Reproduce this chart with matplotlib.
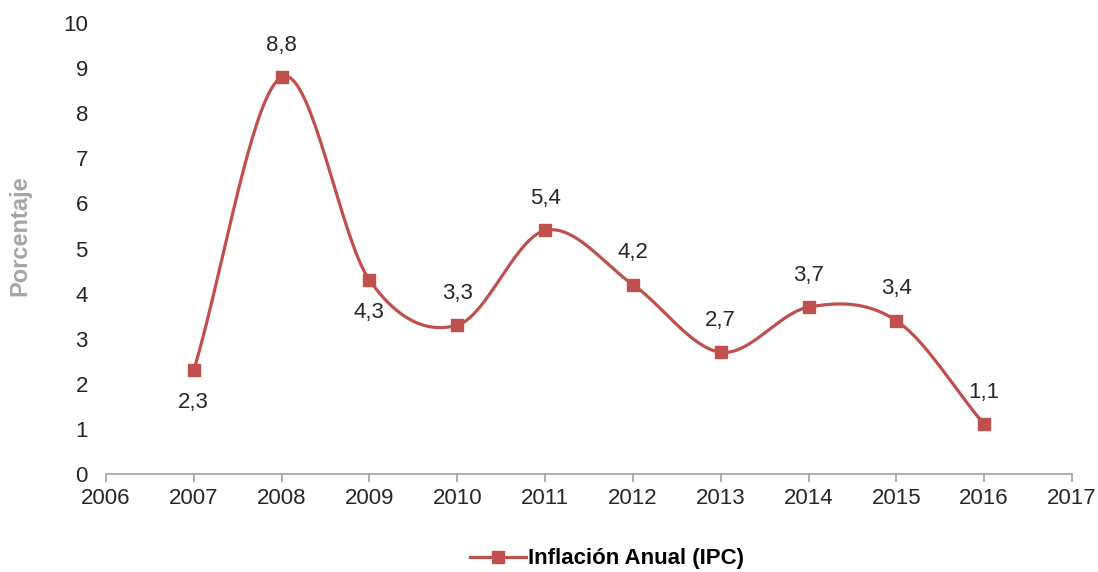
import numpy as np
import matplotlib.pyplot as plt

plt.rcParams['font.family'] = ['Liberation Sans', 'DejaVu Sans']

years = [2007, 2008, 2009, 2010, 2011, 2012, 2013, 2014, 2015, 2016]
inflacion = [2.3, 8.8, 4.3, 3.3, 5.4, 4.2, 2.7, 3.7, 3.4, 1.1]
etiquetas = ['2,3', '8,8', '4,3', '3,3', '5,4', '4,2', '2,7', '3,7', '3,4', '1,1']
# label above (+1) or below (-1) the point
lado = [-1, 1, -1, 1, 1, 1, 1, 1, 1, 1]

color = '#C0504D'


def smooth(x, y, n=40):
    # Catmull-Rom spline, roughly what Excel does for smoothed lines
    x = np.asarray(x, float)
    y = np.asarray(y, float)
    px = np.concatenate([[2 * x[0] - x[1]], x, [2 * x[-1] - x[-2]]])
    py = np.concatenate([[2 * y[0] - y[1]], y, [2 * y[-1] - y[-2]]])
    xs, ys = [], []
    t = np.linspace(0, 1, n)
    for i in range(1, len(px) - 2):
        p0, p1, p2, p3 = [np.array([px[j], py[j]]) for j in range(i - 1, i + 3)]
        m1 = (p2 - p0) / 2
        m2 = (p3 - p1) / 2
        h00 = 2 * t**3 - 3 * t**2 + 1
        h10 = t**3 - 2 * t**2 + t
        h01 = -2 * t**3 + 3 * t**2
        h11 = t**3 - t**2
        pts = (np.outer(h00, p1) + np.outer(h10, m1) +
               np.outer(h01, p2) + np.outer(h11, m2))
        xs.extend(pts[:, 0])
        ys.extend(pts[:, 1])
    return np.array(xs), np.array(ys)


fig = plt.figure(figsize=(10.98, 5.72), dpi=100)
ax = fig.add_axes([0.0965, 0.1713, 0.8798, 0.7885])

sx, sy = smooth(years, inflacion)
ax.plot(sx, sy, color=color, lw=2.3, zorder=2)
ax.plot(years, inflacion, 's', color=color, ms=8.5, zorder=3)
# legend handle
ax.plot([], [], '-s', color=color, lw=2.3, ms=9, label='Inflación Anual (IPC)')

for x, y, t, s in zip(years, inflacion, etiquetas, lado):
    ax.annotate(t, (x, y), xytext=(0, 23 * s), textcoords='offset points',
                ha='center', va='center', fontsize=16, color='#262626')

ax.set_xlim(2006, 2017)
ax.set_ylim(0, 10)
ax.set_xticks(range(2006, 2018))
ax.set_yticks(range(0, 11))

for s in ['top', 'right', 'left']:
    ax.spines[s].set_visible(False)
ax.spines['bottom'].set_color('#A0A0A0')
ax.spines['bottom'].set_linewidth(1.2)
ax.tick_params(axis='x', direction='out', length=6, color='#A0A0A0',
               width=1.2, labelsize=16, pad=4, labelcolor='#262626')
ax.tick_params(axis='y', length=0, labelsize=16, pad=13, labelcolor='#262626')

ax.set_ylabel('Porcentaje', fontsize=17, fontweight='bold', color='#A6A6A6')
ax.yaxis.set_label_coords(-0.0775, 0.528)

leg = ax.legend(loc='center', bbox_to_anchor=(0.519, -0.188), frameon=False,
                prop={'weight': 'bold', 'size': 16}, handlelength=2.5,
                handletextpad=0.1)

fig.savefig('out.png', dpi=100)
